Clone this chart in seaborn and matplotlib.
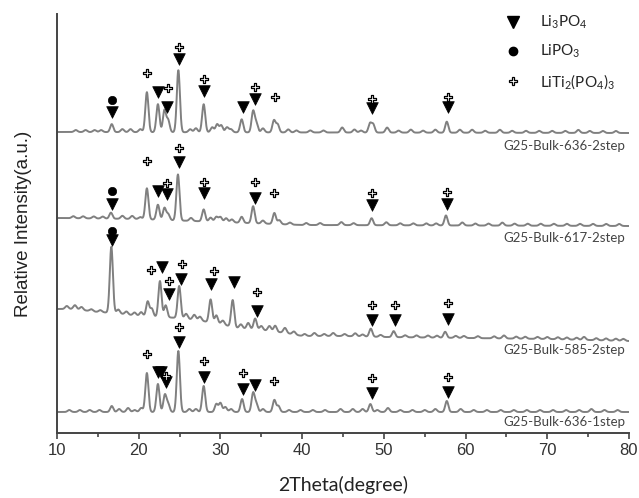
import numpy as np
import pandas as pd
import matplotlib
matplotlib.use("Agg")
import matplotlib.pyplot as plt
from matplotlib.lines import Line2D
import seaborn as sns

# ---------------- data ----------------
# 2-theta range of the scans
two_theta_min, two_theta_max = 10.0, 80.0

sample_names = ["G25-Bulk-636-2step", "G25-Bulk-617-2step",
                "G25-Bulk-585-2step", "G25-Bulk-636-1step"]

# background level (a.u., stacked) at selected 2-theta values
bg_636_2 = ([10, 80], [301, 300])
bg_617_2 = ([10, 20, 30, 40, 80], [215, 214, 211, 208, 207])
bg_585_2 = ([10, 12, 15, 17, 20, 25, 27, 30, 32, 35, 38, 40, 45, 50, 60, 70, 80],
            [124, 124, 121, 120, 117, 115, 113, 109, 105, 103, 100, 97, 97, 96, 95, 94, 92])
bg_636_1 = ([10, 80], [21, 21])

# reflections: (2-theta, intensity above background)
peaks_636_2 = [(16.7, 8), (21.0, 40), (22.35, 28), (23.15, 22), (23.6, 12), (24.85, 62),
               (27.95, 28), (29.6, 8), (30.1, 7), (32.6, 13), (34.0, 21), (34.4, 9),
               (36.55, 12), (37.0, 8), (48.3, 9), (48.7, 8), (57.7, 11),
               (12.3, 2), (13.5, 2), (14.6, 2), (15.4, 2), (18.0, 3), (19.0, 3), (20.2, 3),
               (26.3, 3), (27.0, 4), (29.0, 5), (30.8, 5), (31.3, 3), (35.2, 4), (38.3, 3),
               (39.3, 2), (41.0, 2), (42.6, 2), (44.9, 5), (46.4, 3), (47.2, 2), (50.4, 5),
               (51.8, 2), (53.3, 3), (54.8, 2), (56.3, 3), (59.3, 3), (60.8, 3), (62.4, 2),
               (64.2, 3), (65.7, 2), (67.4, 2), (69.0, 2), (70.6, 2), (72.2, 2), (73.8, 3),
               (75.2, 2), (76.8, 2), (78.4, 2)]
peaks_617_2 = [(16.6, 6), (21.0, 31), (22.35, 15), (23.15, 12), (23.6, 6), (24.8, 46),
               (27.95, 12), (29.5, 5), (30.0, 5), (32.6, 6), (34.0, 17), (36.6, 11),
               (48.5, 7), (57.6, 10),
               (12.0, 2), (13.2, 2), (14.5, 2), (15.6, 2), (18.0, 3), (19.2, 3), (20.2, 2),
               (26.4, 3), (28.8, 4), (30.7, 4), (31.4, 3), (35.2, 3), (37.2, 4), (38.5, 2),
               (40.5, 2), (42.2, 2), (44.8, 3), (46.3, 2), (50.3, 3), (52.0, 2), (53.6, 2),
               (55.2, 2), (56.4, 2), (59.6, 3), (61.2, 2), (62.8, 2), (64.5, 3), (66.0, 2),
               (67.6, 2), (69.2, 2), (70.8, 2), (72.4, 2), (74.0, 2), (75.6, 2), (77.2, 2),
               (78.8, 2)]
peaks_585_2 = [(16.65, 66), (21.1, 15), (21.6, 8), (22.6, 36), (23.3, 12), (24.95, 32),
               (28.8, 23), (31.5, 27), (34.25, 11), (48.4, 8), (51.2, 6), (57.5, 6),
               (11.2, 3), (12.2, 4), (13.0, 3), (14.2, 2), (15.3, 2), (17.5, 4), (18.5, 3),
               (19.5, 3), (20.3, 4), (25.8, 5), (26.8, 5), (27.5, 4), (29.5, 8), (30.3, 4),
               (32.5, 4), (33.4, 6), (35.0, 4), (36.0, 5), (36.7, 6), (37.9, 5), (39.0, 3),
               (40.3, 2), (41.5, 3), (42.7, 2), (43.8, 3), (45.2, 2), (46.5, 3), (47.4, 2),
               (49.6, 2), (52.6, 2), (54.0, 2), (55.4, 2), (56.5, 2), (58.8, 2), (59.8, 2),
               (61.5, 2), (63.5, 2), (64.7, 3), (66.2, 2), (67.3, 2), (68.8, 2), (70.0, 2),
               (71.3, 2), (72.4, 2), (73.6, 2), (74.5, 3), (76.0, 2), (77.2, 2), (78.4, 2),
               (79.3, 2)]
peaks_636_1 = [(16.7, 6), (18.7, 4), (20.3, 4), (21.0, 39), (22.35, 28), (23.2, 17),
               (23.6, 8), (24.85, 61), (27.95, 26), (29.5, 8), (30.0, 9), (30.6, 5),
               (32.65, 13), (34.0, 19), (34.4, 8), (36.6, 12), (48.35, 8), (57.7, 11),
               (11.5, 2), (12.8, 2), (14.0, 2), (15.2, 2), (17.6, 3), (19.5, 2), (26.2, 3),
               (27.0, 3), (31.3, 3), (35.2, 3), (37.1, 6), (38.4, 2), (39.8, 2), (41.3, 2),
               (42.8, 2), (44.7, 3), (46.2, 3), (47.4, 3), (49.2, 2), (50.5, 4), (52.0, 2),
               (53.5, 2), (55.0, 2), (56.3, 3), (59.4, 3), (61.0, 2), (62.6, 2), (64.3, 2),
               (65.9, 2), (67.5, 2), (69.1, 2), (70.7, 2), (72.3, 2), (73.9, 2), (75.4, 3),
               (77.0, 2), (78.6, 2)]

# phase identification marks: 2-theta positions and stacked heights
li3po4_x = [16.7, 22.4, 23.5, 24.9, 28.0, 32.8, 34.2, 48.6, 57.9,
            16.7, 22.4, 23.5, 24.9, 28.0, 34.2, 48.6, 57.7,
            16.7, 22.9, 23.7, 25.2, 28.9, 31.7, 34.5, 48.6, 51.4, 57.9,
            22.3, 22.7, 23.4, 24.9, 28.0, 32.8, 34.2, 48.6, 57.9]
li3po4_y = [321, 341, 326, 374, 342, 326, 334, 325, 326,
            229, 242, 239, 271, 240, 235, 228, 229,
            193, 166, 139, 154, 149, 151, 122, 113, 113, 114,
            61, 61, 51, 91, 56, 44, 48, 40, 41]
lipo3_x = [16.7, 16.7, 16.7]
lipo3_y = [333, 242, 202]
liti2_x = [21.0, 23.6, 24.9, 28.0, 34.2, 36.7, 48.6, 57.9,
           21.0, 23.5, 24.9, 28.0, 34.2, 36.6, 48.6, 57.7,
           21.5, 23.7, 25.3, 29.2, 34.5, 48.6, 51.4, 57.9,
           21.0, 23.4, 24.9, 28.0, 32.8, 36.6, 48.6, 57.9]
liti2_y = [360, 345, 386, 354, 346, 336, 334, 336,
           272, 250, 285, 251, 251, 240, 240, 241,
           163, 152, 169, 162, 141, 128, 128, 130,
           79, 57, 106, 72, 60, 52, 55, 56]

phase_labels = [r"Li$_3$PO$_4$", r"LiPO$_3$", r"LiTi$_2$(PO$_4$)$_3$"]
x_ticks = [10, 20, 30, 40, 50, 60, 70, 80]
label_y = [287, 195, 83, 11]

# ---------------- build profiles ----------------
grid = np.arange(two_theta_min, two_theta_max + 1e-9, 0.02)


def profile(bg, peaks):
    y = np.interp(grid, bg[0], bg[1]).astype(float)
    for pos, h in peaks:
        sig = 0.19 if h >= 6 else 0.2
        y += h * np.exp(-0.5 * ((grid - pos) / sig) ** 2)
    return y


frames = []
for name, bg, pk in zip(sample_names,
                        [bg_636_2, bg_617_2, bg_585_2, bg_636_1],
                        [peaks_636_2, peaks_617_2, peaks_585_2, peaks_636_1]):
    frames.append(pd.DataFrame({"two_theta": grid, "intensity": profile(bg, pk),
                                "sample": name}))
scans = pd.concat(frames, ignore_index=True)

# ---------------- plot ----------------
sns.set_style("white")
plt.rcParams["font.family"] = ["Liberation Sans", "DejaVu Sans"]
plt.rcParams["mathtext.fontset"] = "custom"
plt.rcParams["mathtext.rm"] = "Lato"
plt.rcParams["mathtext.default"] = "regular"

fig = plt.figure(figsize=(6.39, 4.98), dpi=100)
ax = fig.add_axes([57 / 639, 65 / 498, 572 / 639, 419 / 498])

for name in sample_names:
    sub = scans[scans["sample"] == name]
    sns.lineplot(data=sub, x="two_theta", y="intensity", ax=ax, color="#808080",
                 lw=1.4, estimator=None, sort=False, legend=False)

sns.scatterplot(x=li3po4_x, y=li3po4_y, ax=ax, marker="v", s=70, color="black",
                edgecolor="black", linewidth=0.5, zorder=5)
sns.scatterplot(x=lipo3_x, y=lipo3_y, ax=ax, marker="o", s=36, color="black",
                edgecolor="black", linewidth=0.5, zorder=5)
ax.scatter(liti2_x, liti2_y, marker="P", s=36, facecolor="white",
           edgecolor="black", linewidth=0.9, zorder=5)

for name, yl in zip(sample_names, label_y):
    ax.text(79.5, yl, name, ha="right", va="center", fontsize=9.5,
            family="Lato", color="#444444")

ax.set_xlim(two_theta_min, two_theta_max)
ax.set_ylim(0, 419)
ax.set_xticks(x_ticks)
ax.set_xticks(np.arange(15, 80, 10), minor=True)
ax.set_yticks([])
ax.tick_params(axis="x", which="major", direction="out", length=4, width=1.2,
               color="#444444", labelsize=12, labelcolor="#333333", pad=3, bottom=True)
ax.tick_params(axis="x", which="minor", direction="out", length=3, width=1.2,
               color="#444444", bottom=True)
for side in ["top", "right"]:
    ax.spines[side].set_visible(False)
for side in ["left", "bottom"]:
    ax.spines[side].set_color("#444444")
    ax.spines[side].set_linewidth(1.4)

ax.set_xlabel("2Theta(degree)", family="Lato", fontsize=14, color="#222222", labelpad=13)
ax.set_ylabel("Relative Intensity(a.u.)", fontsize=13.5, color="#222222", labelpad=18)

handles = [
    Line2D([], [], ls="none", marker="v", ms=8.5, color="black"),
    Line2D([], [], ls="none", marker="o", ms=6, color="black"),
    Line2D([], [], ls="none", marker="P", ms=6, markerfacecolor="white",
           markeredgecolor="black", markeredgewidth=0.9),
]
ax.legend(handles, phase_labels, loc="upper left", bbox_to_anchor=(505 / 639, 1 - 14 / 498),
          bbox_transform=fig.transFigure, frameon=False,
          handlelength=1.0, handletextpad=1.3, labelspacing=0.75, borderpad=0,
          borderaxespad=0, prop={"family": "Lato", "size": 11})

fig.savefig("out.png", dpi=100)
